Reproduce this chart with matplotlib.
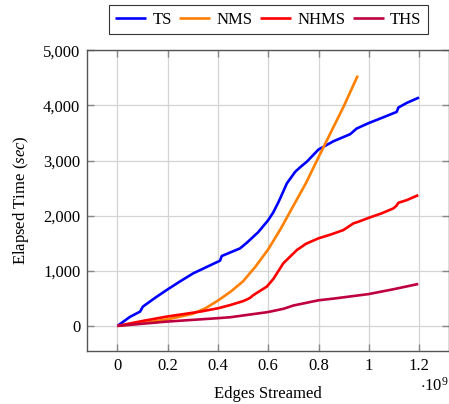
import matplotlib
matplotlib.use("Agg")
import matplotlib.pyplot as plt
from matplotlib.ticker import FuncFormatter

plt.rcParams['font.family'] = ['Liberation Serif', 'DejaVu Serif']
plt.rcParams['mathtext.fontset'] = 'custom'
plt.rcParams['mathtext.rm'] = 'Liberation Serif'
plt.rcParams['mathtext.it'] = 'Liberation Serif:italic'

# Data (x in 1e9 edges, y in seconds)
ts_x = [0, 0.05, 0.09, 0.101, 0.15, 0.196, 0.25, 0.302, 0.36, 0.408, 0.415, 0.488, 0.515, 0.56,
        0.6, 0.62, 0.64, 0.655, 0.674, 0.707, 0.73, 0.753, 0.8, 0.86, 0.926, 0.952, 1.0, 1.05,
        1.111, 1.118, 1.151, 1.2]
ts_y = [0, 165, 259, 350, 510, 652, 810, 955, 1080, 1183, 1268, 1407, 1510, 1700,
        1920, 2060, 2240, 2390, 2585, 2795, 2890, 2977, 3200, 3351, 3478, 3581, 3680, 3770,
        3882, 3962, 4045, 4143]

nms_x = [0, 0.1, 0.2, 0.3, 0.35, 0.4, 0.45, 0.5, 0.55, 0.6, 0.65, 0.7, 0.75, 0.8, 0.85, 0.9, 0.956]
nms_y = [0, 50, 120, 220, 320, 460, 620, 810, 1080, 1390, 1765, 2180, 2590, 3060, 3520, 3980, 4540]

nhms_x = [0, 0.1, 0.196, 0.329, 0.4, 0.45, 0.5, 0.515, 0.528, 0.541, 0.594, 0.62, 0.66, 0.7,
          0.714, 0.75, 0.8, 0.85, 0.899, 0.939, 0.959, 1.005, 1.05, 1.098, 1.11, 1.118, 1.15, 1.197]
nhms_y = [0, 90, 169, 259, 320, 380, 450, 480, 510, 560, 712, 850, 1136, 1315,
          1377, 1490, 1589, 1660, 1739, 1860, 1890, 1969, 2040, 2132, 2180, 2234, 2280, 2373]

ths_x = [0, 0.196, 0.395, 0.448, 0.594, 0.607, 0.66, 0.7, 0.8, 0.859, 1.0, 1.098, 1.197]
ths_y = [0, 78, 139, 157, 248, 259, 310, 370, 465, 495, 578, 665, 761]

series = [
    ("TS", ts_x, ts_y, "#0000FF"),
    ("NMS", nms_x, nms_y, "#FF8000"),
    ("NHMS", nhms_x, nhms_y, "#FF0000"),
    ("THS", ths_x, ths_y, "#BF0040"),
]

x_ticks = [0, 0.2, 0.4, 0.6, 0.8, 1.0, 1.2]
x_ticklabels = ["0", "0.2", "0.4", "0.6", "0.8", "1", "1.2"]
y_ticks = [0, 1000, 2000, 3000, 4000, 5000]

FS = 12

fig = plt.figure(figsize=(4.49, 4.04), dpi=100)
ax = fig.add_axes([87.3 / 449, 1 - 351 / 404, (449.2 - 87.3) / 449, (351 - 50) / 404])

for name, xs, ys, c in series:
    ax.plot(xs, ys, color=c, lw=1.9, label=name, solid_capstyle='butt', zorder=3)

ax.set_xlim(-0.12, 1.32)
ax.set_ylim(-455, 5005)
ax.set_xticks(x_ticks)
ax.set_xticklabels(x_ticklabels)
ax.set_yticks(y_ticks)
ax.yaxis.set_major_formatter(FuncFormatter(lambda v, p: f"{int(v):,}"))

ax.grid(True, color='#d4d4d4', lw=0.9, zorder=0)
ax.set_axisbelow(True)
for s in ax.spines.values():
    s.set_color('#555555')
    s.set_linewidth(1.0)
ax.tick_params(direction='in', length=5, width=1.0, color='#888888',
               top=True, right=True, labelsize=FS, pad=5)

ax.set_xlabel("Edges Streamed", fontsize=FS, labelpad=9)
ax.set_ylabel(r"Elapsed Time $\mathit{(sec)}$", fontsize=FS, labelpad=9)
fig.text(434 / 449, 1 - 386 / 404, r"$\cdot10^{9}$", fontsize=FS, ha='center', va='center')

leg = ax.legend(loc='center', bbox_to_anchor=(268.3 / 449, 1 - 19.5 / 404),
                bbox_transform=fig.transFigure, ncol=4, fontsize=FS, frameon=True,
                fancybox=False, handlelength=1.85, handletextpad=0.38, columnspacing=0.45,
                borderpad=0.4, borderaxespad=0)
leg.get_frame().set_edgecolor('black')
leg.get_frame().set_linewidth(0.8)

fig.savefig("out.png", dpi=100)
